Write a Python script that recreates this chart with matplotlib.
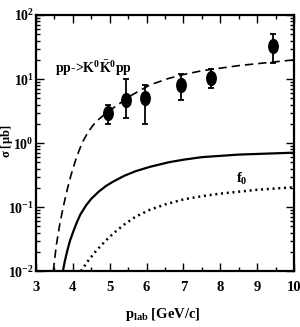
import numpy as np
import matplotlib
matplotlib.use("Agg")
import matplotlib.pyplot as plt
from matplotlib.path import Path
from matplotlib.transforms import Affine2D
from matplotlib.ticker import LogLocator, FixedLocator, NullFormatter, LogFormatterMathtext

plt.rcParams["font.family"] = "Liberation Serif"
plt.rcParams["font.weight"] = "bold"
plt.rcParams["mathtext.fontset"] = "custom"
plt.rcParams["mathtext.rm"] = "Liberation Serif:bold"
plt.rcParams["mathtext.it"] = "Liberation Serif:bold"
plt.rcParams["mathtext.bf"] = "Liberation Serif:bold"

# data points pp -> K0 K0bar pp
p_data = [4.95, 5.44, 5.96, 6.93, 7.75, 9.43]
sig_data = [3.0, 4.7, 5.0, 8.1, 10.4, 32.8]
err_lo = [2.0, 2.45, 2.0, 4.7, 7.2, 17.8]
err_hi = [3.9, 10.0, 8.1, 12.0, 14.3, 50.0]

p_tot = [3.47, 3.55, 3.65, 3.75, 3.85, 3.95, 4.1, 4.25, 4.4, 4.55, 4.7, 4.95, 5.25, 5.6,
         6.1, 6.6, 7.0, 7.5, 8.0, 8.5, 9.0, 9.5, 10.0]
lg_tot = [-2.0, -1.6, -1.25, -0.97, -0.72, -0.50, -0.22, 0.0, 0.16, 0.28, 0.37, 0.49, 0.61,
          0.75, 0.91, 1.01, 1.07, 1.13, 1.17, 1.21, 1.24, 1.27, 1.30]

# f0 contribution (solid)
p_f0 = [3.73, 3.78, 3.85, 3.92, 4.0, 4.1, 4.2, 4.35, 4.5, 4.7, 4.9, 5.1, 5.4, 5.7,
        6.1, 6.6, 7.0, 7.5, 8.0, 8.5, 9.0, 9.5, 10.0]
lg_f0 = [-2.0, -1.85, -1.68, -1.53, -1.40, -1.25, -1.12, -0.98, -0.87, -0.76, -0.67, -0.60,
         -0.51, -0.44, -0.37, -0.30, -0.26, -0.22, -0.20, -0.18, -0.17, -0.16, -0.15]

# dotted contribution
p_dot = [4.22, 4.4, 4.65, 4.9, 5.1, 5.4, 5.7, 6.1, 6.5, 7.0, 7.5, 8.0, 8.5, 9.0, 9.5, 10.0]
lg_dot = [-2.0, -1.85, -1.67, -1.52, -1.41, -1.27, -1.15, -1.04, -0.96, -0.88, -0.83,
          -0.79, -0.76, -0.73, -0.71, -0.69]

fig = plt.figure(figsize=(3.0, 3.27), dpi=100)
ax = fig.add_axes([0.12, 0.171, 0.86, 0.783])

ax.plot(p_tot, 10 ** np.array(lg_tot), color="black", lw=1.2, ls=(0, (5, 3)))
ax.plot(p_f0, 10 ** np.array(lg_f0), color="black", lw=1.6)
ax.plot(p_dot, 10 ** np.array(lg_dot), color="black", lw=1.8, ls=(0, (0.8, 1.5)))

# tall elliptic markers
ell = Path.unit_circle().transformed(Affine2D().scale(0.68, 1.0))
yerr = [np.array(sig_data) - np.array(err_lo), np.array(err_hi) - np.array(sig_data)]
ax.errorbar(p_data, sig_data, yerr=yerr, fmt="none", ecolor="black", elinewidth=1.3,
            capsize=2.5, capthick=1.3)
ax.plot(p_data, sig_data, ls="none", marker=ell, ms=10, color="black")

ax.set_yscale("log")
ax.set_xlim(3, 10)
ax.set_ylim(1e-2, 1e2)

ax.xaxis.set_major_locator(FixedLocator(range(3, 11)))
ax.xaxis.set_minor_locator(FixedLocator(np.arange(3.5, 10, 1.0)))
ax.yaxis.set_major_locator(LogLocator(base=10, numticks=10))
ax.yaxis.set_major_formatter(LogFormatterMathtext())
ax.yaxis.set_minor_locator(LogLocator(base=10, subs=np.arange(2, 10), numticks=10))
ax.yaxis.set_minor_formatter(NullFormatter())

ax.tick_params(which="both", direction="in", top=True, right=True, width=1.0)
ax.tick_params(axis="x", labelsize=10.5, pad=7)
ax.tick_params(axis="y", labelsize=10, pad=1.5)
ax.tick_params(which="major", length=6)
ax.tick_params(which="minor", length=3)
for s in ax.spines.values():
    s.set_linewidth(1.6)

ax.text(3.52, 15.0, r"pp->K$^0\bar{\mathrm{K}}^0$pp", fontsize=10, va="center", ha="left")
ax.text(8.59, 0.28, r"f$_0$", fontsize=10.5, va="center", ha="center")

ax.set_ylabel(r"$\sigma$ [$\mu$b]", fontsize=9, fontweight="bold")
ax.yaxis.set_label_coords(-0.08, 0.508)
ax.set_xlabel(r"p$_{\mathrm{lab}}$ [GeV/c]", fontsize=10.5, fontweight="bold")
ax.xaxis.set_label_coords(0.49, -0.135)

fig.savefig("out.png", dpi=100)
